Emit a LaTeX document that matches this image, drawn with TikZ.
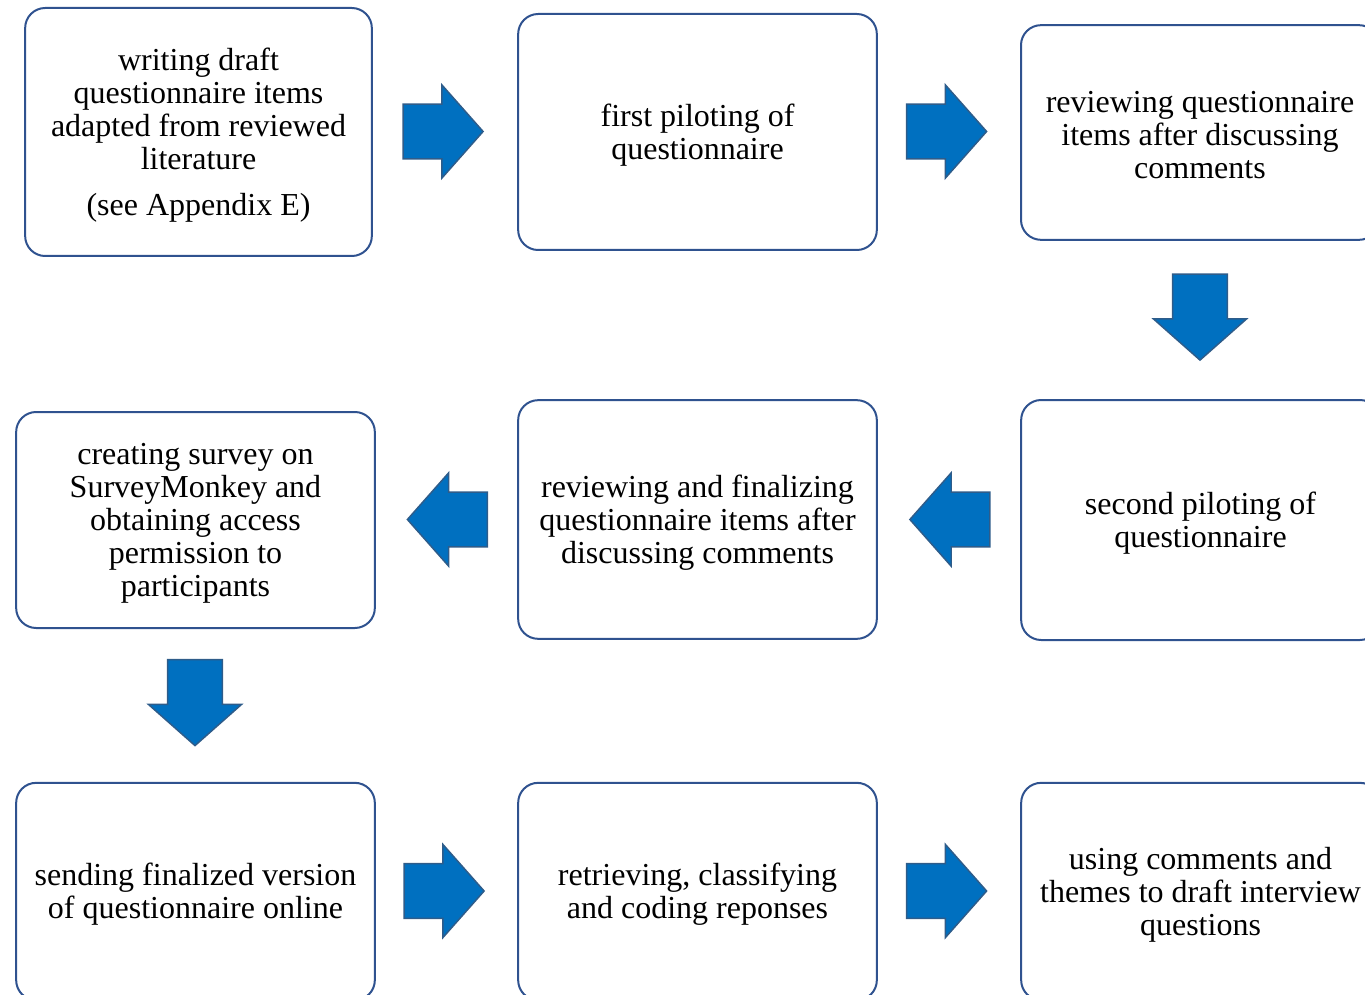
\documentclass[tikz,border=0pt]{standalone}
\usepackage{fontspec}
\setmainfont{Liberation Serif}
\usetikzlibrary{shapes.arrows}
\definecolor{boxline}{HTML}{2F528F}
\definecolor{arrowfill}{HTML}{0070C0}
\definecolor{arrowline}{HTML}{2E5C8A}
\tikzset{
  stepbox/.style={draw=boxline, line width=1.5pt, rounded corners=15pt,
    align=center, inner sep=0pt, font=\fontsize{24}{24.75}\selectfont},
  steptext/.style={align=center, inner sep=0pt, yshift=-2.2pt,
    font=\fontsize{24}{24.75}\selectfont},
  blockarrow/.style={single arrow, draw=arrowline, fill=arrowfill,
    line width=1.1pt, inner xsep=0pt, inner ysep=20pt,
    single arrow head extend=14.5pt, single arrow tip angle=97,
    minimum height=60pt}
}
\begin{document}
\begin{tikzpicture}[x=0.75pt, y=-0.75pt]
  \useasboundingbox (0,0) rectangle (1365,995);
  \clip (0,0) rectangle (1365,995);
  % first row
  \node[stepbox, minimum width=260pt, minimum height=186pt] (write) at (198.5,132) {};
  \node[steptext] at (write) {writing draft\\questionnaire items\\adapted from reviewed\\literature\\[10pt](see Appendix E)};
  \node[stepbox, minimum width=269pt, minimum height=177pt] (pilot1) at (697.5,132) {};
  \node[steptext] at (pilot1) {first piloting of\\questionnaire};
  \node[stepbox, minimum width=268.5pt, minimum height=161pt] (review1) at (1200,132.5) {};
  \node[steptext] at (review1) {reviewing questionnaire\\items after discussing\\comments};
  % second row
  \node[stepbox, minimum width=269pt, minimum height=162pt] (create) at (195.5,520) {};
  \node[steptext] at (create) {creating survey on\\SurveyMonkey and\\obtaining access\\permission to\\participants};
  \node[stepbox, minimum width=269pt, minimum height=179pt] (review2) at (697.5,519.5) {};
  \node[steptext] at (review2) {reviewing and finalizing\\questionnaire items after\\discussing comments};
  \node[stepbox, minimum width=269pt, minimum height=180pt] (pilot2) at (1200.5,520) {};
  \node[steptext] at (pilot2) {second piloting of\\questionnaire};
  % third row
  \node[stepbox, minimum width=269pt, minimum height=163pt] (send) at (195.5,891.5) {};
  \node[steptext] at (send) {sending finalized version\\of questionnaire online};
  \node[stepbox, minimum width=269pt, minimum height=163pt] (code) at (697.5,891.5) {};
  \node[steptext] at (code) {retrieving, classifying\\and coding reponses};
  \node[stepbox, minimum width=269pt, minimum height=163pt] (draft) at (1200.5,891.5) {};
  \node[steptext] at (draft) {using comments and\\themes to draft interview\\questions};
  % block arrows
  \node[blockarrow] (a1) at (431,131.5) {};
  \node[blockarrow] (a2) at (934.5,131.5) {};
  \node[blockarrow, rotate=-90, minimum height=64.5pt] (a3) at (1200,305) {};
  \node[blockarrow, rotate=180] (a4) at (962,519.5) {};
  \node[blockarrow, rotate=180] (a5) at (459.5,519.5) {};
  \node[blockarrow, rotate=-90, minimum height=64.5pt] (a6) at (195,690.5) {};
  \node[blockarrow] (a7) at (432,891) {};
  \node[blockarrow] (a8) at (934.5,891) {};
\end{tikzpicture}
\end{document}
